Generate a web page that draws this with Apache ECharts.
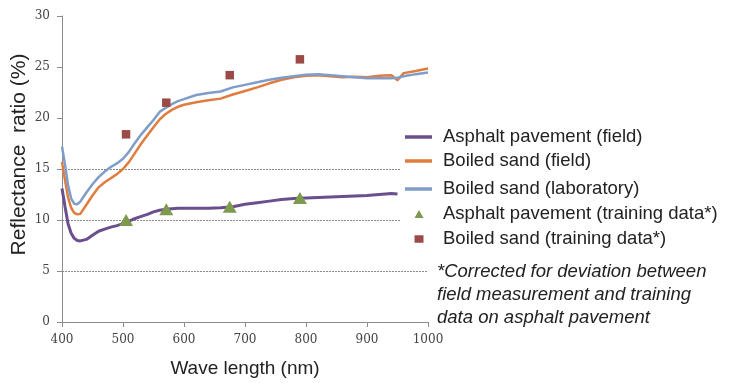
<!DOCTYPE html>
<html><head><meta charset="utf-8">
<script src="https://cdn.jsdelivr.net/npm/echarts@6/dist/echarts.min.js"></script>
<style>html,body{margin:0;padding:0;background:#fff}#c{width:730px;height:383px}</style>
</head><body><div id="c"></div>
<script>
var wavelengths = [400,405,410,415,420,425,430,440,450,460,470,480,490,500,510,520,530,540,550,560,570,580,590,600,620,640,660,680,700,720,740,760,780,800,820,840,860,880,900,920,940,950,960,980,1000];
var asphaltField = [13.1,11.3,9.6,8.7,8.2,8.0,7.95,8.1,8.5,8.9,9.1,9.3,9.45,9.65,9.9,10.15,10.35,10.55,10.8,10.95,11.05,11.1,11.15,11.15,11.15,11.15,11.2,11.3,11.55,11.7,11.85,12.0,12.1,12.15,12.2,12.25,12.3,12.35,12.4,12.5,12.6,12.55,null,null,null];
var sandField = [15.7,13.9,12.2,11.2,10.7,10.55,10.6,11.5,12.4,13.2,13.7,14.1,14.5,15.0,15.7,16.6,17.5,18.3,19.1,19.85,20.4,20.8,21.1,21.3,21.55,21.75,21.9,22.3,22.65,23.0,23.4,23.75,24.0,24.15,24.2,24.1,24.0,24.05,24.0,24.15,24.2,23.7,24.4,24.6,24.85];
var sandLab = [17.2,15.4,13.4,12.1,11.6,11.55,11.8,12.7,13.5,14.2,14.75,15.2,15.55,16.0,16.7,17.6,18.4,19.1,19.8,20.6,21.0,21.35,21.65,21.85,22.25,22.45,22.6,23.0,23.25,23.5,23.75,23.95,24.1,24.25,24.3,24.2,24.1,24.0,23.9,23.9,23.9,23.95,24.1,24.3,24.45];
var trainX = [505,571,675,790];
var asphaltTrain = [10.0,11.05,11.3,12.15];
var sandTrain = [18.4,21.5,24.2,25.75];
var seriesNames = ['Asphalt pavement (field)','Boiled sand (field)','Boiled sand (laboratory)','Asphalt pavement (training data*)','Boiled sand (training data*)'];
var xTicks = [400,500,600,700,800,900,1000];
var yTicks = [0,5,10,15,20,25,30];
var footnote = ['*Corrected for deviation between','field measurement and training','data on asphalt pavement'];
var colors = ['#6a4f8e','#e07c3e','#7e9dc9','#7d9a4e','#9b4a48'];

function pairs(xs, ys){ var o=[]; for(var i=0;i<xs.length;i++){ if(ys[i]!==null) o.push([xs[i],ys[i]]);} return o; }

var legendTops = [137,161,189,214,239];
var legends = seriesNames.map(function(n,i){
  var isLine = i<3;
  return {
    orient:'horizontal', left: isLine?405:414.5, top: legendTops[i]-10, padding:0,
    itemWidth: isLine?27:9, itemHeight: isLine?3.5:(i===3?8:7.5), itemGap:0,
    icon: isLine?'rect':(i===3?'triangle':'rect'),
    textStyle:{fontFamily:'Liberation Sans',fontSize:18.5,lineHeight:20,color:'#222',padding:[0,0,0,isLine?6:14.5]},
    data:[{name:n}]
  };
});

var chart = echarts.init(document.getElementById('c'), null, {renderer:'canvas'});
chart.setOption({
  animation:false,
  backgroundColor:'#fff',
  grid:{left:62,right:302,top:16,bottom:58},
  xAxis:{type:'value',min:xTicks[0],max:xTicks[xTicks.length-1],interval:100,
    name:'Wave length (nm)',nameLocation:'middle',nameGap:37,
    nameTextStyle:{fontFamily:'Liberation Sans',fontSize:19,color:'#222'},
    axisLine:{lineStyle:{color:'#8c8c8c'}},
    axisTick:{show:true,length:5,lineStyle:{color:'#8c8c8c'}},
    axisLabel:{fontFamily:'DejaVu Serif',fontSize:12,color:'#444',margin:12,formatter:function(v){return String(v);}},
    splitLine:{show:false}},
  yAxis:{type:'value',min:yTicks[0],max:yTicks[yTicks.length-1],interval:5,
    axisLine:{show:true,lineStyle:{color:'#8c8c8c'}},
    axisTick:{show:true,length:5,lineStyle:{color:'#8c8c8c'}},
    axisLabel:{fontFamily:'DejaVu Serif',fontSize:12,color:'#444',margin:12},
    splitLine:{show:true,lineStyle:{type:[2,1],width:1,color:['rgba(0,0,0,0)','#8a8a8a','#8a8a8a','#8a8a8a','rgba(0,0,0,0)','rgba(0,0,0,0)','rgba(0,0,0,0)']}}},
  legend:legends,
  graphic:[
    {type:'rect',z:1,shape:{x:401,y:160,width:30,height:70},style:{fill:'#fff'}},
    {type:'text',z:10,x:19.5,y:154.5,rotation:Math.PI/2,style:{text:'Reflectance  ratio (%)',fontFamily:'Liberation Sans',fontSize:21,fill:'#222',align:'center',verticalAlign:'middle'}},
    {type:'text',z:10,left:437,top:260,style:{text:footnote.join('\n'),fontFamily:'Liberation Sans',fontStyle:'italic',fontSize:18.5,lineHeight:23,fill:'#222'}}
  ],
  series:[
    {name:seriesNames[0],type:'line',data:pairs(wavelengths,asphaltField),showSymbol:false,symbol:'none',lineStyle:{color:colors[0],width:3},itemStyle:{color:colors[0]}},
    {name:seriesNames[1],type:'line',data:pairs(wavelengths,sandField),showSymbol:false,symbol:'none',lineStyle:{color:colors[1],width:2.5},itemStyle:{color:colors[1]}},
    {name:seriesNames[2],type:'line',data:pairs(wavelengths,sandLab),showSymbol:false,symbol:'none',lineStyle:{color:colors[2],width:2.5},itemStyle:{color:colors[2]}},
    {name:seriesNames[3],type:'scatter',data:pairs(trainX,asphaltTrain),symbol:'triangle',symbolSize:[14,12],itemStyle:{color:colors[3],opacity:1},z:5},
    {name:seriesNames[4],type:'scatter',data:pairs(trainX,sandTrain),symbol:'rect',symbolSize:8.5,itemStyle:{color:colors[4],opacity:1},z:5}
  ]
});
</script></body></html>
